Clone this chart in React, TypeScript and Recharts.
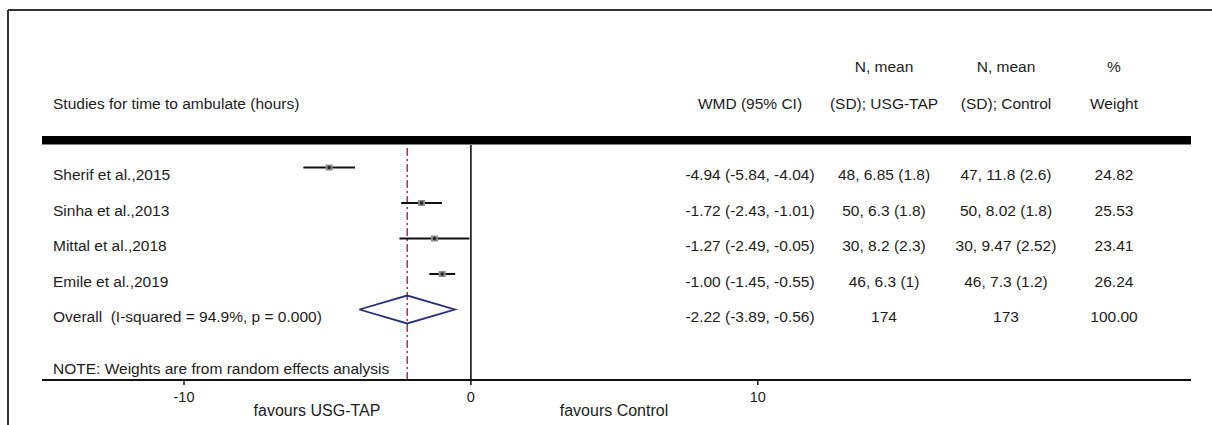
import React from "react";
import {
  ComposedChart,
  Scatter,
  XAxis,
  YAxis,
  ReferenceLine,
  Customized,
} from "recharts";

// ---------- data ----------
const studyLabels = [
  "Sherif et al.,2015",
  "Sinha et al.,2013",
  "Mittal et al.,2018",
  "Emile et al.,2019",
];
const wmd = [-4.94, -1.72, -1.27, -1.0];
const ciLow = [-5.84, -2.43, -2.49, -1.45];
const ciHigh = [-4.04, -1.01, -0.05, -0.55];
const wmdText = [
  "-4.94 (-5.84, -4.04)",
  "-1.72 (-2.43, -1.01)",
  "-1.27 (-2.49, -0.05)",
  "-1.00 (-1.45, -0.55)",
];
const tapText = ["48, 6.85 (1.8)", "50, 6.3 (1.8)", "30, 8.2 (2.3)", "46, 6.3 (1)"];
const ctrlText = ["47, 11.8 (2.6)", "50, 8.02 (1.8)", "30, 9.47 (2.52)", "46, 7.3 (1.2)"];
const weightText = ["24.82", "25.53", "23.41", "26.24"];

const overallLabel = "Overall \u00a0(I-squared = 94.9%, p = 0.000)";
const overallEst = -2.22;
const overallLow = -3.89;
const overallHigh = -0.56;
const overallWmdText = "-2.22 (-3.89, -0.56)";
const overallTap = "174";
const overallCtrl = "173";
const overallWeight = "100.00";

const xTicks = [-10, 0, 10];
const headerTitle = "Studies for time to ambulate (hours)";
const noteText = "NOTE: Weights are from random effects analysis";
const favLeft = "favours USG-TAP";
const favRight = "favours Control";

// ---------- layout ----------
const W = 1212;
const H = 425;
const FONT = "'Liberation Sans', Arial, Helvetica, sans-serif";
const TXT = "#1c1c1c";
const FS = 15.5;
const COL_LABEL = 53;
const COL_WMD = 750;
const COL_TAP = 884;
const COL_CTRL = 1006;
const COL_W = 1114;
const DIAMOND_HALF = 0.394;

const studyPoints = wmd.map((v, i) => ({ x: v, y: i + 1 }));
const tableRows = [
  ...studyLabels.map((s, i) => ({
    x: -14,
    y: i + 1,
    label: s,
    wmd: wmdText[i],
    tap: tapText[i],
    ctrl: ctrlText[i],
    weight: weightText[i],
  })),
  {
    x: -14,
    y: 5,
    label: overallLabel,
    wmd: overallWmdText,
    tap: overallTap,
    ctrl: overallCtrl,
    weight: overallWeight,
  },
];
const overallRow = 5;
const diamond = [
  { x: overallLow, y: overallRow },
  { x: overallEst, y: overallRow - DIAMOND_HALF },
  { x: overallHigh, y: overallRow },
  { x: overallEst, y: overallRow + DIAMOND_HALF },
  { x: overallLow, y: overallRow },
];

const PointShape = (props: any) => {
  const { cx, cy } = props;
  if (cx == null || cy == null) return <g />;
  return (
    <g>
      <rect x={cx - 3.5} y={cy - 3} width={7} height={6} fill="#8a8a8a" />
      <circle cx={cx} cy={cy} r={1.7} fill="#222" />
    </g>
  );
};

const RowText = (props: any) => {
  const { cy } = props;
  const p = props.payload || props;
  if (cy == null) return <g />;
  const y = cy + 12.5;
  return (
    <g fontFamily={FONT} fontSize={FS} fill={TXT}>
      <text x={COL_LABEL} y={y} textAnchor="start">{p.label}</text>
      <text x={COL_WMD} y={y} textAnchor="middle">{p.wmd}</text>
      <text x={COL_TAP} y={y} textAnchor="middle">{p.tap}</text>
      <text x={COL_CTRL} y={y} textAnchor="middle">{p.ctrl}</text>
      <text x={COL_W} y={y} textAnchor="middle">{p.weight}</text>
    </g>
  );
};

const Decorations = () => (
  <g fontFamily={FONT} fill={TXT}>
    {/* outer frame */}
    <line x1={8} y1={10} x2={W} y2={10} stroke="#333" strokeWidth={2} />
    <line x1={8} y1={10} x2={8} y2={H} stroke="#333" strokeWidth={2} />
    {/* headers */}
    <text x={COL_LABEL} y={109} fontSize={FS}>{headerTitle}</text>
    <text x={COL_WMD} y={109} fontSize={FS} textAnchor="middle">WMD (95% CI)</text>
    <text x={COL_TAP} y={72} fontSize={FS} textAnchor="middle">N, mean</text>
    <text x={COL_TAP} y={109} fontSize={FS} textAnchor="middle">(SD); USG-TAP</text>
    <text x={COL_CTRL} y={72} fontSize={FS} textAnchor="middle">N, mean</text>
    <text x={COL_CTRL} y={109} fontSize={FS} textAnchor="middle">(SD); Control</text>
    <text x={COL_W} y={72} fontSize={FS} textAnchor="middle">%</text>
    <text x={COL_W} y={109} fontSize={FS} textAnchor="middle">Weight</text>
    {/* heavy header rule */}
    <rect x={42} y={136} width={1149} height={8.5} fill="#000" />
    {/* note */}
    <text x={COL_LABEL} y={373.5} fontSize={FS}>{noteText}</text>
    {/* favours */}
    <text x={317} y={416} fontSize={16} textAnchor="middle">{favLeft}</text>
    <text x={614} y={416} fontSize={16} textAnchor="middle">{favRight}</text>
  </g>
);

export default function App() {
  return (
    <div style={{ position: "absolute", left: 0, top: 0, width: W, height: H, background: "#fff" }}>
      <ComposedChart
        width={W}
        height={H}
        margin={{ top: 145, right: 21, bottom: 15, left: 42 }}
      >
        <XAxis
          type="number"
          dataKey="x"
          domain={[-14.95, 25.1]}
          ticks={xTicks}
          allowDataOverflow
          height={30}
          tickSize={5}
          tickMargin={7}
          axisLine={{ stroke: "#111", strokeWidth: 2 }}
          tickLine={{ stroke: "#111", strokeWidth: 1.5 }}
          tick={{ fontSize: 14.5, fill: TXT, fontFamily: FONT }}
        />
        <YAxis type="number" dataKey="y" domain={[0.366, 6.986]} reversed hide allowDataOverflow />
        <ReferenceLine x={0} stroke="#111" strokeWidth={1.6} />
        <ReferenceLine
          x={overallEst}
          stroke="#a3262f"
          strokeWidth={1.4}
          strokeDasharray="8 3 2 3"
        />
        {wmd.map((_, i) => (
          <ReferenceLine
            key={"ci" + i}
            segment={[
              { x: ciLow[i], y: i + 1 },
              { x: ciHigh[i], y: i + 1 },
            ]}
            stroke="#111"
            strokeWidth={2}
          />
        ))}
        <Scatter
          data={diamond}
          line={{ stroke: "#25307a", strokeWidth: 1.8 }}
          lineType="joint"
          shape={() => <g />}
          isAnimationActive={false}
        />
        <Scatter data={studyPoints} shape={PointShape} isAnimationActive={false} />
        <Scatter data={tableRows} shape={RowText} isAnimationActive={false} />
        <Customized component={Decorations} />
      </ComposedChart>
    </div>
  );
}
